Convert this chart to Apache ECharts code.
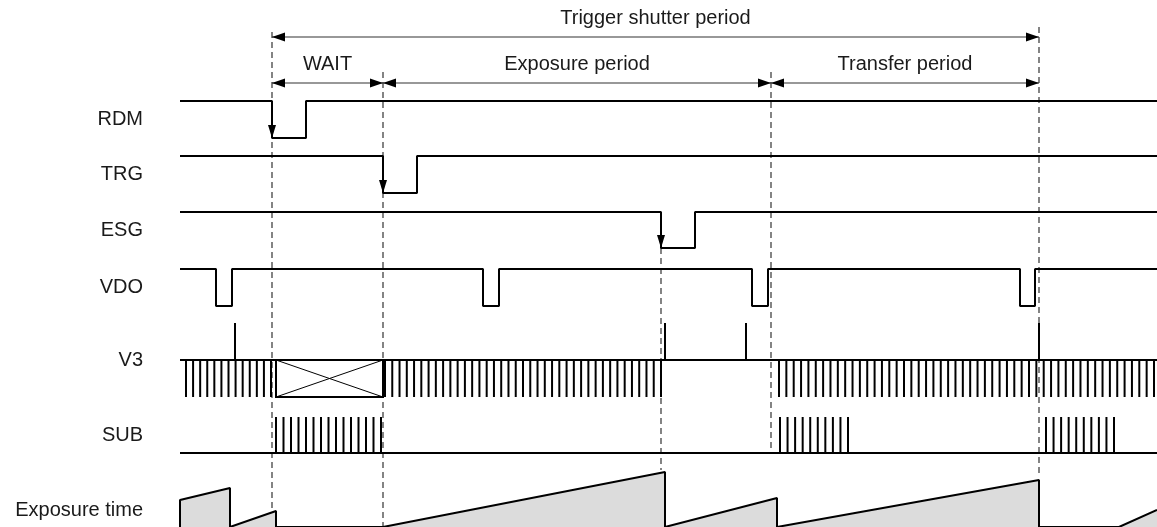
<!DOCTYPE html>
<html lang="en">

<head>
	<meta charset="UTF-8" />
	<title>Trigger shutter timing</title>
	<script src="https://cdn.jsdelivr.net/npm/echarts@6.0.0/dist/echarts.min.js"></script>
	<style type="text/css">
		html,
		body {
			margin: 0;
			padding: 0;
			background-color: #ffffff;
		}

		#chart {
			width: 1157px;
			height: 527px;
		}
	</style>
</head>

<body>
	<div id="chart"></div>

	<script>
		//--------------------------- data ---------------------------//

		// time scale of the drawing
		const timeMin = 180;
		const timeMax = 1157;

		// lane names, top to bottom
		const laneNames = ['RDM', 'TRG', 'ESG', 'VDO', 'V3', 'SUB', 'Exposure time'];

		// [time, level] points, level changes at each point
		const rdmLevels = [[180, 1], [272, 0], [306, 1], [1157, 1]];
		const trgLevels = [[180, 1], [383, 0], [417, 1], [1157, 1]];
		const esgLevels = [[180, 1], [661, 0], [695, 1], [1157, 1]];
		const vdoLevels = [[180, 1], [216, 0], [232, 1], [483, 0], [499, 1], [752, 0], [768, 1], [1020, 0], [1035, 1], [1157, 1]];
		const v3Levels = [[180, 1], [1157, 1]];
		const subLevels = [[180, 0], [1157, 0]];

		// falling edges marked with an arrow: [lane, time]
		const fallArrows = [[0, 272], [1, 383], [2, 661]];

		// V3: single pulses, clock bursts [from, to, pulses], masked window
		const v3Spikes = [235, 665, 746, 1039];
		const v3Bursts = [[186, 271, 13], [385, 661, 39], [779, 1154, 52]];
		const v3Box = [[276, 383]];

		// SUB clock bursts [from, to, pulses]
		const subBursts = [[276, 381, 15], [780, 848, 10], [1046, 1114, 10]];

		// exposure time ramp [time, amount]
		const exposure = [[180, 0], [180, 27], [230, 39], [230, 0], [276, 16], [276, 0], [383, 0], [665, 55], [665, 0],
			[777, 29], [777, 0], [1039, 47], [1039, 0], [1119, 0], [1157, 17]];

		// periods [from, to] and their names
		const periods = [[272, 1039], [272, 383], [383, 771], [771, 1039]];
		const periodNames = ['Trigger shutter period', 'WAIT', 'Exposure period', 'Transfer period'];

		// dashed reference lines
		const markTimes = [272, 383, 661, 771, 1039];

		//--------------------------- layout ---------------------------//

		const lanes = [
			{ top: 101, height: 37, max: 1 },
			{ top: 156, height: 37, max: 1 },
			{ top: 212, height: 36, max: 1 },
			{ top: 269, height: 37, max: 1 },
			{ top: 323, height: 74, max: 2 },
			{ top: 417, height: 36, max: 1 },
			{ top: 460, height: 67, max: 67 }
		];
		const overlay = lanes.length;     // full height grid for arrows and dashed lines
		const periodRows = [37, 83, 83, 83];
		const periodTextRows = [18, 64, 64, 64];
		const markSpans = [[32, 520], [72, 527], [248, 470], [72, 450], [27, 477]];
		const font = '20px "Liberation Sans", Arial, sans-serif';

		//--------------------------- helpers ---------------------------//

		function burstTicks(bursts) {
			var ticks = [];
			bursts.forEach(function (b) {
				var step = (b[1] - b[0]) / (b[2] - 1);
				for (var i = 0; i < b[2]; i++) ticks.push([b[0] + i * step, 0]);
			});
			return ticks;
		}

		function levelSeries(index, data) {
			return {
				type: 'line', xAxisIndex: index, yAxisIndex: index, data: data,
				step: 'end', symbol: 'none', clip: false, silent: true,
				lineStyle: { color: '#000', width: 2 }
			};
		}

		// vertical strokes between two levels of a lane
		function strokeSeries(index, data, fromLevel, toLevel, width) {
			return {
				type: 'custom', xAxisIndex: index, yAxisIndex: index, data: data,
				renderItem: function (params, api) {
					var a = api.coord([api.value(0), fromLevel]);
					var b = api.coord([api.value(0), toLevel]);
					return {
						type: 'line',
						shape: { x1: a[0], y1: a[1], x2: b[0], y2: b[1] },
						style: { stroke: '#000', lineWidth: width }
					};
				}
			};
		}

		function triangle(tip, dx, dy, half) {
			// tip point, direction (dx, dy), length 13
			var bx = tip[0] - dx * 13, by = tip[1] - dy * 13;
			return {
				type: 'polygon',
				shape: { points: [tip, [bx - dy * half, by + dx * half], [bx + dy * half, by - dx * half]] },
				style: { fill: '#000' }
			};
		}

		//--------------------------- chart ---------------------------//

		var grids = [], xAxes = [], yAxes = [];

		lanes.forEach(function (lane, i) {
			var last = i == lanes.length - 1;
			grids.push({ left: 180, right: 0, top: lane.top, height: lane.height, outerBoundsMode: 'none' });
			xAxes.push({ gridIndex: i, type: 'value', min: timeMin, max: timeMax, show: false });
			yAxes.push({
				gridIndex: i, type: 'value', min: 0, max: lane.max,
				name: laneNames[i], nameLocation: 'middle', nameRotate: 0, nameGap: 37,
				nameTextStyle: {
					align: 'right', verticalAlign: last ? 'top' : 'middle', fontSize: 20,
					lineHeight: last ? 34 : 24,
					fontFamily: '"Liberation Sans", Arial, sans-serif', color: '#1a1a1a'
				},
				axisLine: { show: false }, axisTick: { show: false },
				axisLabel: { show: false }, splitLine: { show: false }
			});
		});

		grids.push({ left: 180, right: 0, top: 0, height: 527, outerBoundsMode: 'none' });
		xAxes.push({ gridIndex: overlay, type: 'value', min: timeMin, max: timeMax, show: false });
		yAxes.push({ gridIndex: overlay, type: 'value', min: 0, max: 527, inverse: true, show: false });

		var series = [
			levelSeries(0, rdmLevels),
			levelSeries(1, trgLevels),
			levelSeries(2, esgLevels),
			levelSeries(3, vdoLevels),
			levelSeries(4, v3Levels),
			levelSeries(5, subLevels),
			strokeSeries(4, burstTicks(v3Bursts), 1, 0, 2),
			strokeSeries(4, v3Spikes.map(function (t) { return [t, 0]; }), 1, 2, 2),
			strokeSeries(5, burstTicks(subBursts), 0, 1, 2),
			{
				// masked window on V3
				type: 'custom', xAxisIndex: 4, yAxisIndex: 4, data: v3Box,
				renderItem: function (params, api) {
					var a = api.coord([api.value(0), 1]);
					var b = api.coord([api.value(1), 0]);
					return {
						type: 'group', children: [
							{ type: 'line', shape: { x1: a[0], y1: a[1], x2: b[0], y2: b[1] }, style: { stroke: '#000', lineWidth: 1 } },
							{ type: 'line', shape: { x1: a[0], y1: b[1], x2: b[0], y2: a[1] }, style: { stroke: '#000', lineWidth: 1 } },
							{ type: 'rect', shape: { x: a[0], y: a[1], width: b[0] - a[0], height: b[1] - a[1] }, style: { fill: null, stroke: '#000', lineWidth: 2 } }
						]
					};
				}
			},
			{
				type: 'line', xAxisIndex: 6, yAxisIndex: 6, data: exposure,
				symbol: 'none', clip: false, silent: true,
				lineStyle: { color: '#000', width: 2 },
				areaStyle: { color: '#dcdcdc', opacity: 1, origin: 'start' }
			},
			{
				// dashed reference lines
				type: 'custom', xAxisIndex: overlay, yAxisIndex: overlay,
				data: markTimes.map(function (t) { return [t, 0]; }),
				renderItem: function (params, api) {
					var span = markSpans[params.dataIndex];
					var a = api.coord([api.value(0), span[0]]);
					var b = api.coord([api.value(0), span[1]]);
					return {
						type: 'line', z2: -1,
						shape: { x1: a[0], y1: a[1], x2: b[0], y2: b[1] },
						style: { stroke: '#333', lineWidth: 1.2, lineDash: [6, 4] }
					};
				}
			},
			{
				// period dimension arrows
				type: 'custom', xAxisIndex: overlay, yAxisIndex: overlay, data: periods,
				renderItem: function (params, api) {
					var i = params.dataIndex;
					var a = api.coord([api.value(0), periodRows[i]]);
					var b = api.coord([api.value(1), periodRows[i]]);
					var t = api.coord([(api.value(0) + api.value(1)) / 2, periodTextRows[i]]);
					return {
						type: 'group', children: [
							{ type: 'line', shape: { x1: a[0], y1: a[1], x2: b[0], y2: b[1] }, style: { stroke: '#333', lineWidth: 1.2 } },
							triangle(a, -1, 0, 4.5),
							triangle(b, 1, 0, 4.5),
							{
								type: 'text',
								style: { text: periodNames[i], x: t[0], y: t[1], align: 'center', verticalAlign: 'middle', font: font, fill: '#1a1a1a' }
							}
						]
					};
				}
			}
		];

		// arrows on falling edges
		fallArrows.forEach(function (f) {
			series.push({
				type: 'custom', xAxisIndex: f[0], yAxisIndex: f[0], data: [[f[1], 0]],
				renderItem: function (params, api) {
					return triangle(api.coord([api.value(0), 0]), 0, 1, 4);
				}
			});
		});

		var chart = echarts.init(document.getElementById('chart'));

		chart.setOption({
			animation: false,
			grid: grids,
			xAxis: xAxes,
			yAxis: yAxes,
			series: series
		});
	</script>
</body>

</html>
